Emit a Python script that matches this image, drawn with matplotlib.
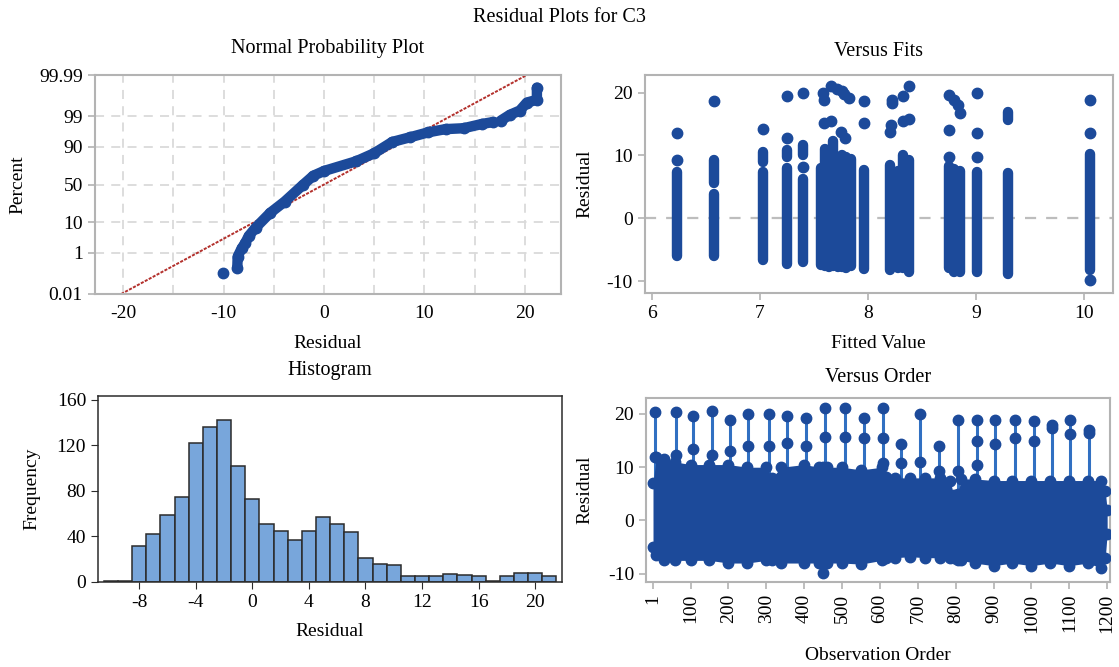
import numpy as np
import matplotlib.pyplot as plt
from statistics import NormalDist

plt.rcParams['font.family'] = ['Liberation Serif', 'DejaVu Serif']
plt.rcParams['font.size'] = 14
plt.rcParams['axes.unicode_minus'] = False

# ---- Normal probability plot (residual, percent)
npp_first_res = [-10.07]
npp_first_pct = [0.13]
npp_res_a = [-8.64, -8.6, -8.2, -7.86, -7.5, -6.8, -5.36, -3.93, -2.14, -1.07, 0.0,
             3.2, 5.0, 6.8, 8.6, 10.4, 12.1, 13.9, 15.7, 16.8]
npp_pct_a = [0.23, 0.72, 1.5, 2.3, 4.0, 7.2, 16.8, 28.0, 49.0, 61.7, 67.7,
             78.5, 85.6, 92.6, 94.6, 96.2, 97.0, 97.2, 98.0, 98.3]
npp_res_b = [17.6, 18.5, 19.5, 20.2, 21.2, 21.2]
npp_pct_b = [98.5, 99.1, 99.4, 99.73, 99.8, 99.95]
fit_res = [-20.2, 20.2]
fit_pct = [0.01, 99.99]
pct_ticks = [0.01, 1, 10, 50, 90, 99, 99.99]
pct_labels = ['0.01', '1', '10', '50', '90', '99', '99.99']

# ---- Versus fits: vertical runs of points (fitted value, low, high) and lone points
vf_col_fit = [6.23, 6.57, 6.57, 7.03, 7.03, 7.25, 7.25, 7.40, 7.40,
              7.56, 7.60, 7.64, 7.68, 7.72, 7.76, 7.80, 7.84, 7.96,
              8.20, 8.28, 8.32, 8.38, 8.75, 8.80, 8.85, 9.01, 9.30, 9.30, 10.06]
vf_col_lo = [-6.0, -6.0, 5.6, -6.7, 9.0, -7.3, 9.8, -6.9, 10.1,
             -7.5, -7.6, -7.8, -7.6, -7.8, -7.7, -7.9, -7.6, -8.1,
             -8.2, -8.0, -8.0, -8.5, -8.0, -8.5, -8.5, -8.5, -8.8, 15.6, -8.3]
vf_col_hi = [7.3, 3.8, 9.3, 7.3, 10.6, 8.0, 10.9, 6.3, 11.7,
             8.0, 11.0, 8.0, 12.3, 9.0, 10.0, 9.8, 9.5, 7.7,
             8.5, 7.5, 10.0, 9.3, 8.3, 7.8, 7.5, 7.3, 7.2, 16.9, 10.3]
vf_pt_fit = [6.23, 6.23, 6.57, 7.03, 7.25, 7.25, 7.40, 7.40,
             7.58, 7.59, 7.59, 7.66, 7.66, 7.71, 7.76, 7.78, 7.82, 7.75, 7.79,
             7.96, 7.96, 8.20, 8.21, 8.22, 8.22, 8.32, 8.32, 8.38, 8.38,
             8.75, 8.75, 8.75, 8.80, 8.83, 8.85, 9.01, 9.01, 9.01, 10.06, 10.06, 10.06]
vf_pt_res = [9.3, 13.5, 18.7, 14.2, 12.7, 19.5, 8.2, 20.0,
             20.0, 18.8, 15.1, 21.0, 15.4, 20.5, 20.2, 19.8, 19.1, 13.8, 12.7,
             15.1, 18.7, 13.8, 14.8, 18.9, 18.3, 19.4, 15.4, 21.0, 15.8,
             9.8, 14.1, 19.6, 18.8, 18.0, 16.8, 9.8, 13.5, 20.0, -9.9, 13.5, 18.9]

# ---- Histogram of residuals (bin centre, count)
hist_bins = [-10, -9, -8, -7, -6, -5, -4, -3, -2, -1, 0, 1, 2, 3, 4, 5,
             6, 7, 8, 9, 10, 11, 12, 13, 14, 15, 16, 17, 18, 19, 20, 21]
hist_counts = [1, 1, 32, 42, 59, 75, 122, 136, 142, 102, 73, 51, 45, 37, 45, 57,
               51, 44, 21, 16, 15, 5, 5, 5, 7, 6, 5, 1, 5, 8, 8, 5]

# ---- Versus order: spikes, extra points on spikes, and the dense band outline
vo_spike_obs = [6, 62, 107, 157, 205, 253, 308, 356, 406, 454, 509, 557,
                607, 655, 706, 756, 806, 856, 904, 957, 1007, 1055, 1103, 1153]
vo_spike_peak = [20.4, 20.4, 19.7, 20.6, 18.9, 20.0, 20.0, 19.7, 19.2, 21.2, 21.2, 19.2,
                 21.2, 14.3, 20.0, 13.9, 18.9, 18.9, 18.9, 18.9, 18.6, 17.9, 18.9, 17.0]
vo_mid_obs = [6, 62, 107, 157, 205, 253, 308, 356, 406, 454, 509, 557, 607, 607,
              655, 706, 756, 806, 856, 856, 904, 957, 1007, 1055, 1103, 1153]
vo_mid_res = [12.0, 12.3, 13.4, 12.3, 13.0, 13.9, 13.9, 14.5, 13.9, 15.7, 15.7, 15.4, 15.4, 10.7,
              10.7, 11.0, 9.3, 9.2, 14.9, 10.4, 14.3, 15.4, 14.9, 17.3, 16.2, 16.4]
vo_env_obs = [1, 10, 30, 60, 100, 150, 200, 250, 300, 315, 340, 400, 440, 450, 460,
              500, 550, 605, 615, 640, 680, 720, 760, 785, 795, 805, 815, 850, 900,
              950, 1000, 1050, 1100, 1150, 1185, 1195, 1200]
vo_env_hi = [7.0, 12.0, 11.5, 11.0, 10.5, 10.5, 10.5, 10.0, 10.0, 8.0, 10.0, 10.5, 10.0, 10.0, 10.0,
             10.0, 9.5, 10.0, 8.2, 8.0, 8.0, 8.0, 8.0, 7.5, 4.8, 5.0, 7.8, 7.8, 7.5,
             7.5, 7.5, 7.5, 7.5, 7.5, 7.5, 5.5, 2.0]
vo_env_lo = [-5.0, -6.5, -7.5, -7.5, -7.5, -7.5, -8.0, -8.0, -7.5, -7.5, -8.0, -8.0, -8.0, -9.8, -8.0,
             -8.0, -8.2, -7.5, -7.0, -7.0, -6.8, -7.0, -7.0, -7.0, -7.0, -7.5, -7.5, -8.0, -8.5,
             -8.0, -8.5, -8.0, -8.5, -8.0, -9.0, -7.0, -2.5]
order_ticks = [1, 100, 200, 300, 400, 500, 600, 700, 800, 900, 1000, 1100, 1200]

BLUE = '#1c4a9a'
STEM = '#3170c2'
FRAME = '#b3b3b3'
W, H = 1119, 667


def box(left, top, right, bottom):
    return [left / W, 1 - bottom / H, (right - left) / W, (bottom - top) / H]


def probit(vals):
    return [NormalDist().inv_cdf(v / 100) for v in vals]


def grey_frame(ax):
    for s in ax.spines.values():
        s.set_color(FRAME)
        s.set_linewidth(1.5)
    ax.tick_params(color=FRAME, width=1.2, length=5, labelsize=14)


fig = plt.figure(figsize=(W / 100, H / 100), dpi=100)
fig.text(0.5, 1 - 18 / H, 'Residual Plots for C3', ha='center', va='center', fontsize=14.5)

# Normal probability plot
ax1 = fig.add_axes(box(94.6, 75, 561, 294))
ax1.plot(fit_res, probit(fit_pct), color='#b3302c', lw=1.4, ls=(0, (1.6, 0.7)), zorder=2)
ax1.plot(npp_first_res, probit(npp_first_pct), 'o', color=BLUE, ms=7.5, zorder=3)
for xs, ps in [(npp_res_a, npp_pct_a), (npp_res_b, npp_pct_b)]:
    ax1.plot(xs, probit(ps), color=BLUE, lw=7.5, marker='o', ms=7.5,
             solid_capstyle='round', solid_joinstyle='round', zorder=3)
ax1.set_xlim(-22.85, 23.6)
ax1.set_ylim(NormalDist().inv_cdf(0.0001), NormalDist().inv_cdf(0.9999))
ax1.set_xticks([-20, -10, 0, 10, 20])
ax1.set_xticks([-15, -5, 5, 15], minor=True)
ax1.set_yticks(probit(pct_ticks))
ax1.set_yticklabels(pct_labels)
ax1.grid(True, which='both', axis='x', ls=(0, (5, 4)), color='#dadada', lw=1.3)
ax1.grid(True, which='major', axis='y', ls=(0, (5, 4)), color='#dadada', lw=1.3)
ax1.set_axisbelow(True)
grey_frame(ax1)
ax1.tick_params(which='minor', length=0)
ax1.tick_params(axis='x', length=0, pad=8)
ax1.set_title('Normal Probability Plot', y=1 + 27 / 219, pad=0, va='center', fontsize=14.5)
ax1.set_xlabel('Residual', va='center')
ax1.xaxis.set_label_coords(0.5, -50 / 219)
ax1.set_ylabel('Percent', va='center')
ax1.yaxis.set_label_coords(-76.6 / 466.4, 0.5)

# Versus fits
ax2 = fig.add_axes(box(644.6, 75, 1113, 293))
ax2.axhline(0, color='#bdbdbd', lw=1.6, ls=(0, (5, 4.5)), zorder=1)
for x, lo, hi in zip(vf_col_fit, vf_col_lo, vf_col_hi):
    ax2.plot([x, x], [lo, hi], color=BLUE, lw=7.5, solid_capstyle='round', zorder=3)
ax2.plot(vf_pt_fit, vf_pt_res, 'o', color=BLUE, ms=7.5, zorder=3)
ax2.set_xlim(5.93, 10.27)
ax2.set_ylim(-11.9, 22.8)
ax2.set_xticks([6, 7, 8, 9, 10])
ax2.set_yticks([-10, 0, 10, 20])
grey_frame(ax2)
ax2.set_title('Versus Fits', y=1 + 23 / 218, pad=0, va='center', fontsize=14.5)
ax2.set_xlabel('Fitted Value', va='center')
ax2.xaxis.set_label_coords(0.5, -50 / 218)
ax2.set_ylabel('Residual', va='center')
ax2.yaxis.set_label_coords(-60 / 468.4, 0.5)

# Histogram
ax3 = fig.add_axes(box(98, 396, 562, 582))
ax3.bar(hist_bins, hist_counts, width=1.0, color='#78a6db', edgecolor='#2b2b2b', lw=1.1)
ax3.set_xlim(-10.92, 21.9)
ax3.set_ylim(0, 163.5)
ax3.set_xticks([-8, -4, 0, 4, 8, 12, 16, 20])
ax3.set_yticks([0, 40, 80, 120, 160])
for s in ax3.spines.values():
    s.set_color('#2b2b2b')
    s.set_linewidth(1.1)
ax3.tick_params(color='#2b2b2b', length=5, labelsize=14)
ax3.set_title('Histogram', y=1 + 26 / 186, pad=0, va='center', fontsize=14.5)
ax3.set_xlabel('Residual', va='center')
ax3.xaxis.set_label_coords(0.5, -50 / 186)
ax3.set_ylabel('Frequency', va='center')
ax3.yaxis.set_label_coords(-66 / 464, 0.5)

# Versus order
ax4 = fig.add_axes(box(646, 398, 1110, 582))
ax4.vlines(vo_spike_obs, 0, vo_spike_peak, color=STEM, lw=2.2, zorder=2)
ax4.fill_between(vo_env_obs, vo_env_lo, vo_env_hi, color=BLUE, lw=0, zorder=3)
ax4.plot(vo_env_obs, vo_env_hi, 'o', color=BLUE, ms=7.5, zorder=3)
ax4.plot(vo_env_obs, vo_env_lo, 'o', color=BLUE, ms=7.5, zorder=3)
ax4.plot(vo_spike_obs, vo_spike_peak, 'o', color=BLUE, ms=7.5, zorder=4)
ax4.plot(vo_mid_obs, vo_mid_res, 'o', color=BLUE, ms=7.5, zorder=4)
ax4.set_xlim(-17.5, 1207.5)
ax4.set_ylim(-11.56, 23.0)
ax4.set_xticks(order_ticks)
ax4.set_xticklabels([str(t) for t in order_ticks], rotation=90)
ax4.set_yticks([-10, 0, 10, 20])
grey_frame(ax4)
ax4.set_title('Versus Order', y=1 + 21 / 184, pad=0, va='center', fontsize=14.5)
ax4.set_xlabel('Observation Order', va='center')
ax4.xaxis.set_label_coords(0.5, -73 / 184)
ax4.set_ylabel('Residual', va='center')
ax4.yaxis.set_label_coords(-61 / 464, 0.5)

fig.savefig('out.png', dpi=100)
